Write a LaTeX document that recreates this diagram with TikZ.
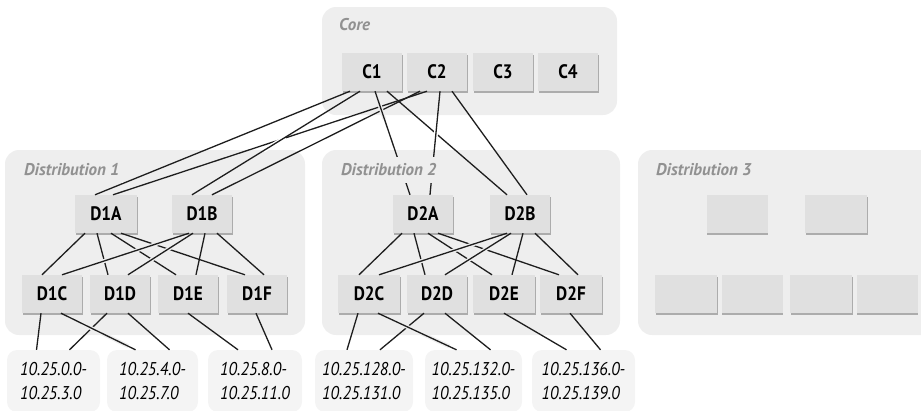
\documentclass[tikz,border=0pt]{standalone}
\usepackage{fontspec}
\setmainfont{PT Sans}
\newfontfamily\narrowfont[FakeStretch=0.88]{PT Sans}
\usetikzlibrary{shadows}
\definecolor{panelGray}{RGB}{238,238,238}
\definecolor{boxGray}{RGB}{224,224,224}
\definecolor{shadeGray}{RGB}{172,172,172}
\definecolor{labelInk}{RGB}{145,145,145}
\definecolor{lineInk}{RGB}{30,30,30}
\definecolor{blockGray}{RGB}{244,244,244}
\tikzset{
  panel/.style={fill=panelGray, rounded corners=14pt},
  panellabel/.style={fill=panelGray, text=labelInk, inner xsep=3pt, inner ysep=7pt, anchor=west, font=\fontsize{17}{20}\selectfont\bfseries\itshape},
  switchbox/.style={fill=boxGray, minimum width=60pt, minimum height=38pt, inner sep=0pt, general shadow={fill=shadeGray, shadow xshift=0.8pt, shadow yshift=-2.2pt}, font=\narrowfont\fontsize{19.5}{21}\selectfont\bfseries},
  netblock/.style={fill=blockGray, rounded corners=10pt, minimum height=62pt, align=left, inner sep=0pt, font=\narrowfont\fontsize{18.5}{24}\selectfont\itshape},
  cable/.style={draw=lineInk, line width=1.3pt},
  overcable/.style n args={3}{cable, preaction={draw=#1, line width=4pt, shorten <=#2, shorten >=#3}}
}

\begin{document}
\begin{tikzpicture}[x=1pt, y=-1pt]
  \clip (0,0) rectangle (921,410);
  % panels
  \fill[panel] (322,7) rectangle (617,115);
  \fill[panel] (5,150) rectangle (305,335);
  \fill[panel] (322,150) rectangle (620,335);
  \fill[panel] (638,150) rectangle (945,335);

  % core
  \node[switchbox] (C1) at (372,72) {C1};
  \node[switchbox] (C2) at (437,72) {C2};
  \node[switchbox] (C3) at (503,72) {C3};
  \node[switchbox] (C4) at (568,72) {C4};

  % distribution 1
  \node[switchbox, minimum width=62pt] (D1A) at (106,214) {D1A};
  \node[switchbox] (D1B) at (202,214) {D1B};
  \node[switchbox] (D1C) at (52,294) {D1C};
  \node[switchbox] (D1D) at (120,294) {D1D};
  \node[switchbox] (D1E) at (188,294) {D1E};
  \node[switchbox] (D1F) at (257,294) {D1F};

  % distribution 2
  \node[switchbox] (D2A) at (423,214) {D2A};
  \node[switchbox] (D2B) at (520,214) {D2B};
  \node[switchbox, minimum width=62pt] (D2C) at (369,294) {D2C};
  \node[switchbox] (D2D) at (437,294) {D2D};
  \node[switchbox, minimum width=62pt] (D2E) at (504,294) {D2E};
  \node[switchbox, minimum width=62pt] (D2F) at (571,294) {D2F};

  % distribution 3 (empty)
  \node[switchbox, minimum width=61pt] (D3A) at (737,214) {};
  \node[switchbox, minimum width=62pt] (D3B) at (836,214) {};
  \node[switchbox, minimum width=62pt] (D3C) at (686,294) {};
  \node[switchbox, minimum width=61pt] (D3D) at (752,294) {};
  \node[switchbox, minimum width=62pt] (D3E) at (821,294) {};
  \node[switchbox, minimum width=61pt] (D3F) at (887,294) {};

  % address blocks
  \node[netblock, minimum width=93pt] (net1) at (53.5,381) {10.25.0.0-\\10.25.3.0};
  \node[netblock, minimum width=91pt] (net2) at (152.5,381) {10.25.4.0-\\10.25.7.0};
  \node[netblock, minimum width=94pt] (net3) at (255,381) {10.25.8.0-\\10.25.11.0};
  \node[netblock, minimum width=98pt] (net4) at (364,381) {10.25.128.0-\\10.25.131.0};
  \node[netblock, minimum width=97pt] (net5) at (473.5,381) {10.25.132.0-\\10.25.135.0};
  \node[netblock, minimum width=103pt] (net6) at (583.5,381) {10.25.136.0-\\10.25.139.0};

  % core uplinks
  \draw[cable] ([xshift=-10pt]C2.south) -- ([xshift=7pt]D1A.north);
  \draw[cable] ([xshift=-17pt]C2.south) -- ([xshift=10pt]D1B.north);
  \draw[cable] ([xshift=-22pt]C1.south) -- ([xshift=-11pt]D1A.north);
  \draw[overcable={white}{88pt}{84pt}] ([xshift=-12pt]C1.south) -- ([xshift=-10pt]D1B.north);
  \draw[cable] ([xshift=15pt]C1.south) -- ([xshift=-13pt]D2B.north);
  \draw[cable] ([xshift=15pt]C2.south) -- ([xshift=7pt]D2B.north);
  \draw[overcable={panelGray}{6pt}{80pt}] ([xshift=3pt]C1.south) -- ([xshift=-13pt]D2A.north);
  \draw[overcable={white}{30pt}{50pt}] ([xshift=3pt]C2.south) -- ([xshift=7pt]D2A.north);

  % inside each distribution
  \foreach \k/\p/\q/\r in {1/net1/net2/net3, 2/net4/net5/net6} {
    \draw[cable] ([xshift=-21pt]D\k A.south) -- ([xshift=-10pt]D\k C.north);
    \draw[cable] ([xshift=-9pt]D\k A.south) -- ([xshift=-12pt]D\k D.north);
    \draw[cable] ([xshift=5pt]D\k A.south) -- ([xshift=-12pt]D\k E.north);
    \draw[cable] ([xshift=15pt]D\k A.south) -- ([xshift=-12pt]D\k F.north);
    \draw[overcable={panelGray}{12pt}{10pt}] ([xshift=-13pt]D\k B.south) -- ([xshift=10pt]D\k C.north);
    \draw[overcable={panelGray}{12pt}{10pt}] ([xshift=-9pt]D\k B.south) -- ([xshift=8pt]D\k D.north);
    \draw[cable] ([xshift=3pt]D\k B.south) -- ([xshift=8pt]D\k E.north);
    \draw[cable] ([xshift=15pt]D\k B.south) -- ([xshift=7pt]D\k F.north);
    % down to the address blocks
    \draw[cable] ([xshift=-11pt]D\k C.south) -- ([xshift=-17pt]\p.north);
    \draw[cable] ([xshift=-13pt]D\k D.south) -- ([xshift=16pt]\p.north);
    \draw[overcable={panelGray}{8pt}{8pt}] ([xshift=9pt]D\k C.south) -- ([xshift=-17pt]\q.north);
    \draw[cable] ([xshift=8pt]D\k D.south) -- ([xshift=17pt]\q.north);
    \draw[cable] ([xshift=0pt]D\k E.south) -- ([xshift=-17pt]\r.north);
    \draw[cable] ([xshift=-1pt]D\k F.south) -- ([xshift=17pt]\r.north);
  }

  % panel titles
  \node[panellabel] (coreLabel) at (336,25) {Core};
  \node[panellabel] (distLabelA) at (21,170) {Distribution 1};
  \node[panellabel] (distLabelB) at (338,170) {Distribution 2};
  \node[panellabel] (distLabelC) at (653,170) {Distribution 3};
\end{tikzpicture}
\end{document}
